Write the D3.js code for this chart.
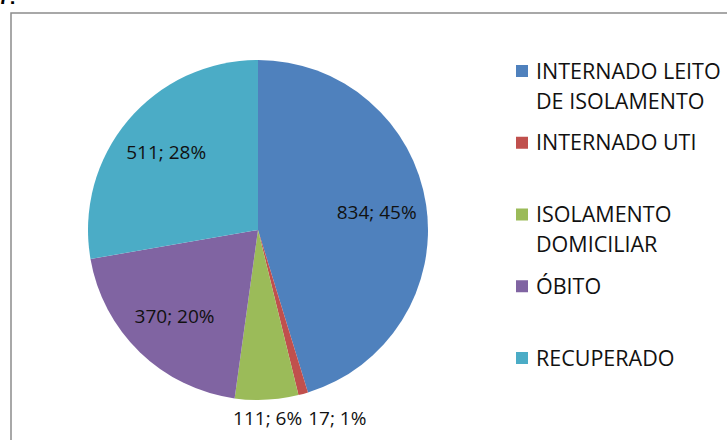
<!DOCTYPE html>
<html>
<head>
<meta charset="utf-8">
<script src="https://cdn.jsdelivr.net/npm/d3@7"></script>
<style>
  body { margin: 0; background: #fff; }
  svg { display: block; font-family: "Open Sans", sans-serif; }
</style>
</head>
<body>
<div id="chart"></div>
<script>
var categories = ["INTERNADO LEITO DE ISOLAMENTO", "INTERNADO UTI", "ISOLAMENTO DOMICILIAR", "ÓBITO", "RECUPERADO"];
var values = [834, 17, 111, 370, 511];
var colors = ["#4F81BD", "#C0504D", "#9BBB59", "#8064A2", "#4BACC6"];

(function() {
  var w = 727, h = 440;
  var cx = 258, cy = 230, r = 170;

  var svg = d3.select("#chart").append("svg")
    .attr("width", w)
    .attr("height", h);

  // frame of the chart area (runs off the right and bottom)
  svg.append("rect")
    .attr("x", 11).attr("y", 13)
    .attr("width", 740).attr("height", 460)
    .attr("fill", "none")
    .attr("stroke", "#8c8c8c")
    .attr("stroke-width", 1.5);

  // heading above the frame, cut off at the top like in the original
  svg.append("text")
    .attr("x", 16).attr("y", 4)
    .attr("text-anchor", "end")
    .style("font-family", "Liberation Sans, sans-serif")
    .style("font-weight", "bold")
    .style("font-size", "20px")
    .text("7:");

  var total = d3.sum(values);
  var colorScale = d3.scaleOrdinal().domain(categories).range(colors);

  var pie = d3.pie().sort(null)(values);

  var arc = d3.arc().innerRadius(0).outerRadius(r);
  var labelArc = d3.arc().innerRadius(120).outerRadius(120);

  var g = svg.append("g")
    .attr("transform", "translate(" + cx + "," + cy + ")");

  g.selectAll("path")
    .data(pie)
    .enter()
    .append("path")
    .attr("d", arc)
    .attr("fill", function(d, i) { return colorScale(categories[i]); });

  function labelText(d) {
    return d.value + "; " + Math.round(d.value / total * 100) + "%";
  }

  // big slices: label inside
  var inside = pie.filter(function(d) { return d.value / total >= 0.1; });
  g.selectAll("text.inlabel")
    .data(inside)
    .enter()
    .append("text")
    .attr("class", "inlabel")
    .attr("transform", function(d) { return "translate(" + labelArc.centroid(d) + ")"; })
    .attr("text-anchor", "middle")
    .attr("dy", "0.35em")
    .style("font-size", "19px")
    .style("fill", "#111")
    .text(labelText);

  // small slices: label outside below the pie, pushed apart if they overlap
  var outside = pie.filter(function(d) { return d.value / total < 0.1; })
    .sort(function(a, b) { return b.startAngle - a.startAngle; });
  var lastRight = -Infinity;
  outside.forEach(function(d) {
    var a = (d.startAngle + d.endAngle) / 2;
    var t = g.append("text")
      .attr("y", r + 18)
      .attr("dy", "0.35em")
      .style("font-size", "19px")
      .style("fill", "#111")
      .text(labelText(d));
    var tw = t.node().getComputedTextLength();
    var x = Math.sin(a) * (r + 18) - tw / 2;
    if (x < lastRight + 6) x = lastRight + 6;
    t.attr("x", x);
    lastRight = x + tw;
  });

  // legend
  var legend = svg.append("g").attr("transform", "translate(516,71)");
  var step = 71.75, lineH = 30, maxW = 200;

  categories.forEach(function(c, i) {
    var item = legend.append("g").attr("transform", "translate(0," + (i * step) + ")");
    item.append("rect")
      .attr("x", 0).attr("y", -6)
      .attr("width", 12).attr("height", 12)
      .attr("fill", colorScale(c));
    var t = item.append("text")
      .attr("x", 20)
      .style("font-size", "21.5px")
      .style("fill", "#111");
    // word wrap
    var words = c.split(" "), line = [], n = 0;
    var ts = t.append("tspan").attr("x", 20).attr("y", 0).attr("dy", "0.35em");
    words.forEach(function(word) {
      line.push(word);
      ts.text(line.join(" "));
      if (ts.node().getComputedTextLength() > maxW && line.length > 1) {
        line.pop();
        ts.text(line.join(" "));
        line = [word];
        n++;
        ts = t.append("tspan").attr("x", 20).attr("y", n * lineH).attr("dy", "0.35em").text(word);
      }
    });
  });
})();
</script>
</body>
</html>
